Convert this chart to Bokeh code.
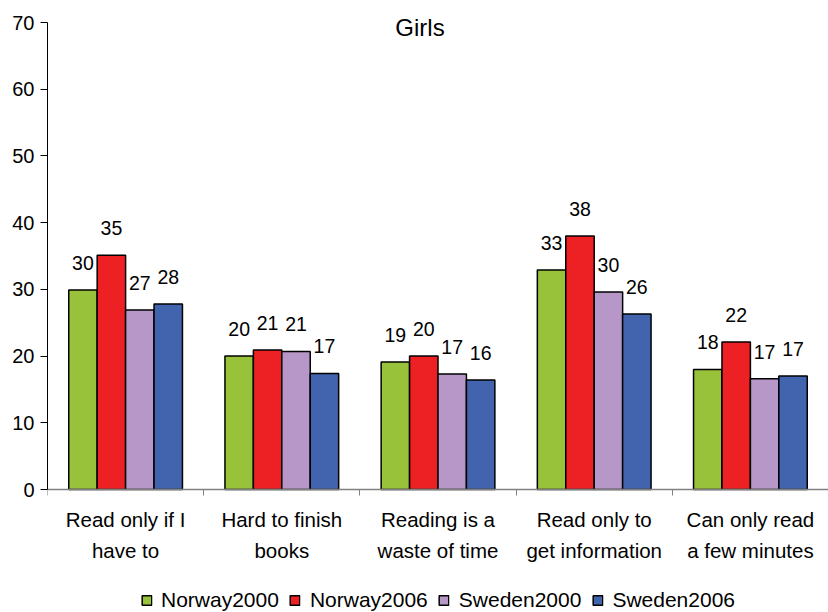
from bokeh.plotting import figure
from bokeh.models import Range1d, FixedTicker, Label, Legend, LegendItem, ColumnDataSource
from bokeh.core.properties import value
from bokeh.embed import file_html
from bokeh.resources import INLINE

FONT = "Liberation Sans"

categories = ["Read only if I\nhave to", "Hard to finish\nbooks", "Reading is a\nwaste of time",
              "Read only to\nget information", "Can only read\na few minutes"]
series_names = ["Norway2000", "Norway2006", "Sweden2000", "Sweden2006"]
norway2000 = [29.9, 20.0, 19.1, 32.9, 18.0]
norway2006 = [35.1, 20.9, 20.0, 38.0, 22.1]
sweden2000 = [26.9, 20.7, 17.3, 29.6, 16.6]
sweden2006 = [27.8, 17.4, 16.4, 26.3, 17.0]
y_ticks = [0, 10, 20, 30, 40, 50, 60, 70]
colors = ["#99C23B", "#ED2024", "#B797C8", "#4264AE"]
title_text = "Girls"

series = [norway2000, norway2006, sweden2000, sweden2006]
n_cat = len(categories)
bar_w = 0.182

# layout: value axis 0..70 spans 467 px, 22 px room above, 123 px below
px_per_unit = 467 / 70
y_lo = -123 / px_per_unit
y_hi = 70 + 22 / px_per_unit

p = figure(frame_width=781, frame_height=612, output_backend="svg", toolbar_location=None,
           x_range=Range1d(0, n_cat), y_range=Range1d(y_lo, y_hi),
           min_border_left=47, min_border_right=0, min_border_top=0, min_border_bottom=0)
p.outline_line_color = None
p.xgrid.grid_line_color = None
p.ygrid.grid_line_color = None
p.background_fill_color = "white"
p.border_fill_color = "white"

items = []
for j, (name, vals, col) in enumerate(zip(series_names, series, colors)):
    xs = [i + 0.5 + (j - 1.5) * bar_w for i in range(n_cat)]
    src = ColumnDataSource(dict(x=xs, top=vals, lab=[f"{v:.0f}" for v in vals]))
    r = p.vbar(x="x", top="top", bottom=0, width=bar_w, source=src, fill_color=col,
               line_color="black", line_width=1.5)
    p.text(x="x", y="top", text="lab", source=src, text_align="center",
           text_baseline="middle", y_offset=-27, text_font=value(FONT),
           text_font_size="19.5px", text_color="black")
    items.append(LegendItem(label=name, renderers=[r]))

# y axis
ya = p.yaxis[0]
ya.ticker = FixedTicker(ticks=y_ticks)
ya.bounds = (0, 70)
ya.axis_line_color = "black"
ya.axis_line_width = 1
ya.major_tick_line_color = "black"
ya.major_tick_out = 7
ya.major_tick_in = 0
ya.minor_tick_line_color = None
ya.major_label_text_font = FONT
ya.major_label_text_font_size = "20px"
ya.major_label_text_color = "black"
ya.major_label_standoff = 6

# x axis (sits on the zero line)
xa = p.xaxis[0]
xa.fixed_location = 0
xa.ticker = FixedTicker(ticks=[i + 0.5 for i in range(n_cat)],
                        minor_ticks=list(range(n_cat + 1)))
xa.major_label_overrides = {i + 0.5: c for i, c in enumerate(categories)}
xa.axis_line_color = "#808080"
xa.axis_line_width = 1.5
xa.major_tick_line_color = None
xa.major_tick_out = 6
xa.major_tick_in = 0
xa.minor_tick_line_color = "#808080"
xa.minor_tick_out = 6
xa.minor_tick_in = 0
xa.major_label_text_font = FONT
xa.major_label_text_font_size = "20.5px"
xa.major_label_text_color = "black"
xa.major_label_text_line_height = 1.38
xa.major_label_standoff = 12

p.add_layout(Label(x=n_cat / 2, y=70, text=title_text, text_align="center",
                   text_baseline="alphabetic", x_offset=-18, y_offset=-5, text_font=FONT,
                   text_font_size="24px", text_color="black"))

legend = Legend(items=items, orientation="horizontal", location="bottom_center",
                glyph_width=12, glyph_height=12, label_standoff=9, spacing=10,
                label_text_font=FONT, label_text_font_size="21px",
                label_text_color="black",
                border_line_color=None, background_fill_alpha=0,
                padding=0, margin=0)
p.add_layout(legend)

open("out.html", "w").write(file_html(p, INLINE))
